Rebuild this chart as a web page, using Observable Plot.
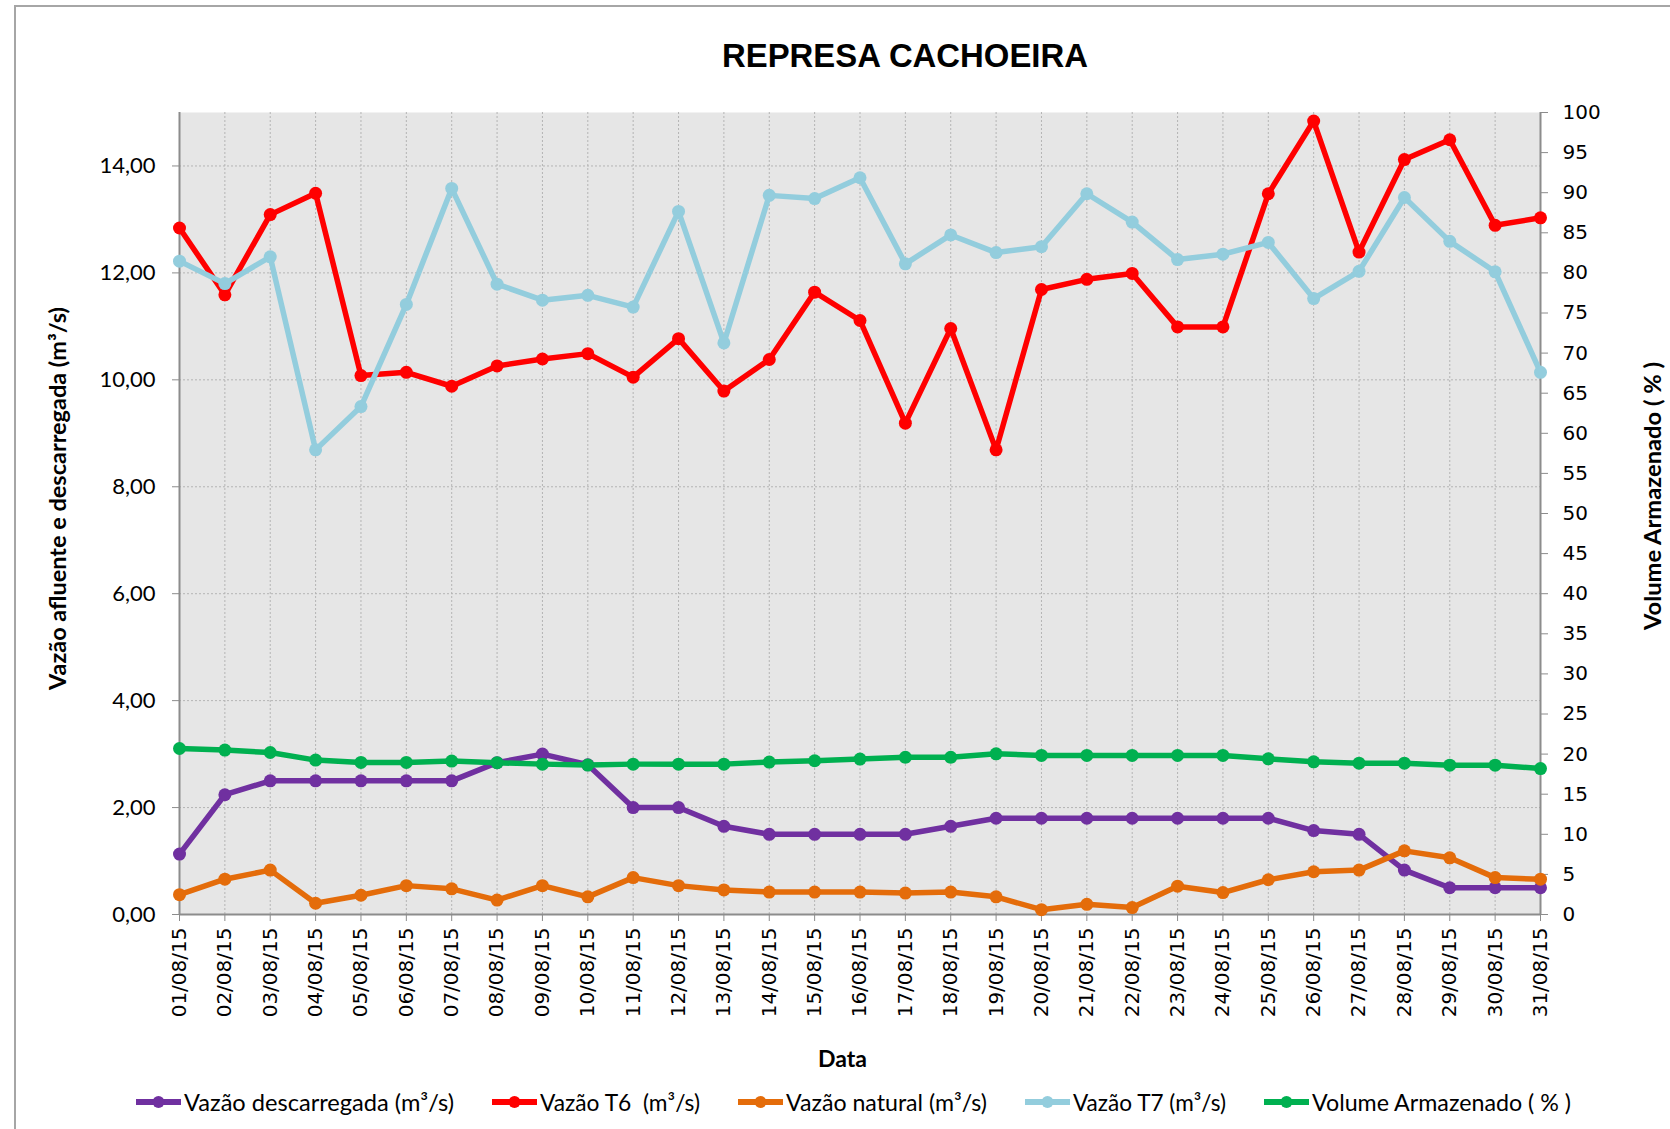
<!DOCTYPE html>
<html><head><meta charset="utf-8">
<script src="https://cdn.jsdelivr.net/npm/d3@7"></script>
<script src="https://cdn.jsdelivr.net/npm/@observablehq/plot@0.6"></script>
<style>
html,body{margin:0;padding:0;background:#fff;}
#wrap{position:relative;width:1670px;height:1129px;overflow:hidden;background:#fff;}
#frame{position:absolute;left:14px;top:5px;width:1720px;height:1200px;border:2px solid #a6a6a6;box-sizing:border-box;}
#title{position:absolute;left:0;top:0;}
#chart{position:absolute;left:0;top:80px;}
#legend{position:absolute;left:0;top:1080px;}
</style></head><body>
<div id="wrap"><div id="frame"></div><div id="title"></div><div id="chart"></div><div id="legend"></div></div>
<script>
// ---- data ----
const dates = ["01/08/15","02/08/15","03/08/15","04/08/15","05/08/15","06/08/15","07/08/15","08/08/15","09/08/15","10/08/15",
  "11/08/15","12/08/15","13/08/15","14/08/15","15/08/15","16/08/15","17/08/15","18/08/15","19/08/15","20/08/15",
  "21/08/15","22/08/15","23/08/15","24/08/15","25/08/15","26/08/15","27/08/15","28/08/15","29/08/15","30/08/15","31/08/15"];
const vazaoDescarregada = [1.13,2.24,2.5,2.5,2.5,2.5,2.5,2.84,3.0,2.8,2.0,2.0,1.65,1.5,1.5,1.5,1.5,1.65,1.8,1.8,1.8,1.8,1.8,1.8,1.8,1.57,1.5,0.83,0.5,0.5,0.5];
const vazaoT6 = [12.84,11.59,13.09,13.49,10.08,10.14,9.88,10.26,10.39,10.49,10.05,10.77,9.79,10.38,11.64,11.11,9.19,10.96,8.69,11.69,11.88,11.99,10.99,10.99,13.48,14.84,12.39,14.12,14.49,12.89,13.03];
const vazaoNatural = [0.37,0.66,0.83,0.21,0.36,0.54,0.48,0.27,0.54,0.33,0.69,0.54,0.46,0.42,0.42,0.42,0.40,0.42,0.33,0.09,0.19,0.13,0.53,0.41,0.65,0.80,0.83,1.19,1.06,0.69,0.66];
const vazaoT7 = [12.22,11.80,12.30,8.69,9.50,11.41,13.58,11.79,11.49,11.58,11.36,13.15,10.69,13.45,13.39,13.78,12.17,12.71,12.38,12.49,13.48,12.95,12.25,12.35,12.57,11.52,12.03,13.41,12.59,12.02,10.14];
const volumeArmazenado = [20.7,20.5,20.2,19.25,18.96,18.96,19.13,18.92,18.75,18.63,18.75,18.75,18.75,19.0,19.17,19.38,19.6,19.6,20.04,19.83,19.83,19.83,19.83,19.83,19.41,19.04,18.87,18.87,18.62,18.62,18.2];
const leftTicks = [0,2,4,6,8,10,12,14];
const rightTicks = [0,5,10,15,20,25,30,35,40,45,50,55,60,65,70,75,80,85,90,95,100];
const seriesNames = ["Vazão descarregada (m³/s)","Vazão T6  (m³/s)","Vazão natural (m³/s)","Vazão T7 (m³/s)","Volume Armazenado ( % )"];
const titleText = "REPRESA CACHOEIRA";
const leftTitle = "Vazão afluente e descarregada (m³/s)";
const rightTitle = "Volume Armazenado ( % )";
const xTitle = "Data";

// ---- styles / layout ----
const colors = ["#7030a0","#ff0000","#e46c0a","#93cddd","#00b050"];
const axisColor = "#8c8c8c";
const gridStyle = {stroke:"#b4b4b4", strokeOpacity:1, strokeDasharray:"2,2", strokeWidth:1};
const legendTextWidths = [270,160,201,153,259];
const LEFT_MAX = 15, RIGHT_MAX = 100, K = LEFT_MAX / RIGHT_MAX;

const rows = dates.map((date,i)=>({date, s0:vazaoDescarregada[i], s1:vazaoT6[i], s2:vazaoNatural[i], s3:vazaoT7[i], s4:volumeArmazenado[i]}));
const seriesMarks = [];
[0,1,2,3,4].forEach(k=>{
  const y = k===4 ? (d=>d["s"+k]*K) : ("s"+k);
  seriesMarks.push(Plot.line(rows,{x:"date", y, stroke:colors[k], strokeWidth:5.5, strokeLinejoin:"round", strokeLinecap:"round"}));
  seriesMarks.push(Plot.dot(rows,{x:"date", y, r:6.5, fill:colors[k], stroke:"none"}));
});

// title
const tsvg = d3.create("svg").attr("width",1670).attr("height",80);
tsvg.append("text").attr("x",905).attr("y",67).attr("text-anchor","middle")
  .attr("font-family","Liberation Sans, Arial, sans-serif").attr("font-weight","bold").attr("font-size",33)
  .attr("textLength",366).attr("lengthAdjust","spacingAndGlyphs").text(titleText);
document.getElementById("title").appendChild(tsvg.node());

const chart = Plot.plot({
  width:1670, height:1000, marginTop:32, marginRight:130, marginBottom:166, marginLeft:179,
  style:{background:"transparent", color:"#000", fontFamily:"Lato, sans-serif"},
  x:{type:"point", domain:dates, padding:0, round:false},
  y:{domain:[0,LEFT_MAX]},
  marks:[
    Plot.frame({fill:"#e6e6e6", stroke:"none"}),
    Plot.gridX(dates, gridStyle),
    Plot.gridY(leftTicks, gridStyle),
    Plot.ruleY([0], {stroke:axisColor, strokeWidth:2}),
    Plot.ruleX([dates[0], dates[dates.length-1]], {stroke:axisColor, strokeWidth:2}),
    Plot.axisY(leftTicks, {anchor:"left", tickSize:7, tickPadding:17, tickFormat:d=>d.toFixed(2).replace(".",","), stroke:axisColor, fill:"#000", label:null}),
    Plot.axisY(rightTicks.map(p=>p*K), {anchor:"right", tickSize:7, tickPadding:15, tickFormat:d=>String(Math.round(d/K)), stroke:axisColor, fill:"#000", label:null}),
    Plot.axisX(dates, {anchor:"bottom", tickSize:7, tickPadding:6, tickRotate:-90, stroke:axisColor, fill:"#000", label:null}),
    ...seriesMarks
  ]
});
const cs = d3.select(chart);
cs.selectAll('g[aria-label="x-axis tick label"]').attr("font-family","DejaVu Sans").attr("font-size",20)
  .selectAll("text").attr("font-family","DejaVu Sans").attr("font-size",20);
cs.selectAll('g[aria-label="y-axis tick label"]').each(function(){
  const g = d3.select(this);
  const isRight = g.attr("text-anchor") === "start";
  const fam = isRight ? "DejaVu Sans" : "Lato";
  const size = isRight ? 20 : 22;
  g.attr("font-family",fam).attr("font-size",size);
  g.selectAll("text").attr("font-family",fam).attr("font-size",size);
});
cs.append("text").attr("transform","translate(66,418.5) rotate(-90)").attr("text-anchor","middle")
  .attr("font-family","Lato").attr("font-weight","bold").attr("font-size",22).attr("fill","#000")
  .attr("textLength",383).attr("lengthAdjust","spacingAndGlyphs").text(leftTitle);
cs.append("text").attr("transform","translate(1661,416) rotate(-90)").attr("text-anchor","middle")
  .attr("font-family","Lato").attr("font-weight","bold").attr("font-size",22).attr("fill","#000")
  .attr("textLength",268).attr("lengthAdjust","spacingAndGlyphs").text(rightTitle);
cs.append("text").attr("x",842.5).attr("y",987).attr("text-anchor","middle")
  .attr("font-family","Lato").attr("font-weight","bold").attr("font-size",23).attr("fill","#000")
  .attr("textLength",49).attr("lengthAdjust","spacingAndGlyphs").text(xTitle);
document.getElementById("chart").appendChild(chart);

// legend
const lsvg = d3.create("svg").attr("width",1670).attr("height",49);
let x0 = 136;
seriesNames.forEach((name,k)=>{
  const g = lsvg.append("g");
  g.append("line").attr("x1",x0).attr("x2",x0+45).attr("y1",22).attr("y2",22).attr("stroke",colors[k]).attr("stroke-width",6);
  g.append("circle").attr("cx",x0+22.5).attr("cy",22).attr("r",6).attr("fill",colors[k]);
  g.append("text").attr("x",x0+48).attr("y",31).attr("font-family","Lato").attr("font-size",23).attr("fill","#000")
    .attr("xml:space","preserve").style("white-space","pre")
    .attr("textLength",legendTextWidths[k]).attr("lengthAdjust","spacingAndGlyphs").text(name);
  x0 += 45 + 3 + legendTextWidths[k] + 38;
});
document.getElementById("legend").appendChild(lsvg.node());
</script>
</body></html>
